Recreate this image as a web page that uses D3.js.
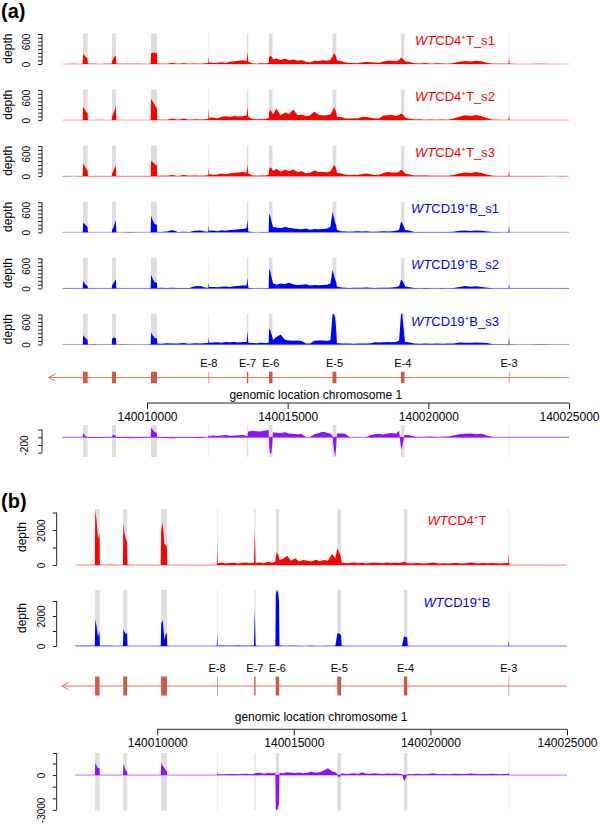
<!DOCTYPE html>
<html>
<head>
<meta charset="utf-8">
<script src="https://cdn.jsdelivr.net/npm/d3@7"></script>
<style>
  body { margin: 0; background: #fff; }
  svg { display: block; }
</style>
</head>
<body>
<svg id="chart" width="600" height="827"></svg>
<script>
// genomic positions (offset from chromBase) where coverage is sampled
const chromBase = 140000000;
const positions = [
  7000, 7200, 7400, 7600, 7715,
  7730, 7780, 7830, 7885,
  7900, 8100, 8300, 8500, 8745,
  8760, 8800, 8850, 8895,
  8910, 9100, 9400, 9700, 10000, 10130,
  10145, 10200, 10260, 10320, 10352,
  10365, 10500, 10700, 10900, 11100, 11300, 11500, 11700, 11900, 12100, 12180,
  12195,
  12210, 12350, 12500, 12650, 12800, 12950, 13100, 13250, 13400, 13540,
  13570,
  13600, 13750, 13900, 14050, 14200, 14325,
  14340, 14380, 14420, 14458,
  14475, 14600, 14750, 14900, 15050, 15200, 15350, 15500, 15650, 15800, 15950, 16100, 16250, 16400, 16520,
  16595, 16640, 16690, 16730,
  16750, 16900, 17050, 17200, 17350, 17500, 17650, 17800, 17950, 18100, 18250, 18400, 18550, 18700, 18850, 18960,
  19030, 19070, 19110, 19150,
  19170, 19300, 19500, 19700, 19900, 20100, 20300, 20500, 20700, 20900, 21100, 21300, 21500, 21700, 21900, 22100, 22300, 22500, 22700, 22850,
  22868,
  22885, 23200, 23600, 24000, 24400, 24800, 25000
];

const exonStarts = [7725, 8756, 10142, 12188, 13550, 14337, 16594, 19029, 22862];
const exonEnds = [7889, 8898, 10355, 12200, 13600, 14461, 16732, 19153, 22878];
const exonNames = ["", "", "", "E-8", "E-7", "E-6", "E-5", "E-4", "E-3"];
const geneTip = 6500;
const axisTicks = [140010000, 140015000, 140020000, 140025000];

// (a) individual samples
const cd4s1 = [
  3, 2, 4, 3, 5,
  270, 230, 180, 150,
  8, 5, 3, 6, 4,
  80, 150, 200, 230,
  6, 4, 8, 5, 3, 6,
  290, 300, 300, 300, 290,
  12, 8, 10, 30, 6, 20, 8, 15, 10, 22, 30,
  213,
  40, 25, 35, 50, 30, 60, 75, 90, 100, 80,
  330,
  60, 15, 10, 20, 12, 30,
  180, 220, 200, 170,
  130, 150, 110, 140, 100, 120, 90, 110, 60, 40, 90, 80, 100, 90, 110,
  200, 285, 250, 180,
  100, 80, 40, 25, 30, 20, 45, 55, 50, 40, 30, 70, 90, 85, 75, 110,
  178, 150, 120, 100,
  70, 60, 20, 15, 25, 10, 20, 15, 10, 30, 60, 80, 70, 85, 75, 30, 10, 8, 5, 10,
  195,
  5, 3, 2, 4, 2, 3, 2
];
const cd4s2 = [
  4, 3, 2, 5, 4,
  355, 300, 220, 180,
  6, 4, 8, 5, 6,
  90, 160, 260, 400,
  8, 5, 6, 4, 5, 8,
  570, 500, 430, 350, 300,
  15, 10, 12, 45, 8, 40, 10, 20, 15, 25, 35,
  310,
  60, 70, 40, 90, 100, 80, 110, 95, 105, 120,
  355,
  80, 30, 20, 25, 30, 50,
  200, 270, 240, 180,
  150, 310, 120, 200, 160, 285, 130, 150, 110, 130, 220, 140, 120, 130, 150,
  250, 338, 280, 200,
  90, 80, 45, 40, 50, 45, 90, 85, 60, 40, 45, 120, 130, 140, 110, 133,
  178, 160, 130, 110,
  60, 40, 15, 20, 12, 18, 10, 15, 12, 40, 90, 130, 110, 133, 100, 50, 10, 8, 6, 12,
  178,
  6, 4, 3, 5, 2, 4, 3
];
const cd4s3 = [
  3, 4, 2, 3, 4,
  338, 280, 200, 160,
  5, 6, 4, 7, 5,
  71, 140, 220, 275,
  6, 5, 7, 4, 6, 5,
  420, 380, 330, 300, 280,
  14, 9, 11, 35, 7, 30, 9, 18, 12, 20, 30,
  240,
  50, 40, 45, 70, 50, 80, 90, 100, 115, 95,
  320,
  70, 20, 15, 22, 18, 40,
  180, 240, 220, 170,
  140, 200, 120, 170, 130, 180, 110, 130, 80, 90, 150, 110, 120, 100, 130,
  220, 290, 260, 190,
  100, 75, 40, 30, 40, 35, 60, 70, 55, 35, 40, 85, 110, 100, 90, 120,
  180, 150, 125, 100,
  65, 50, 18, 16, 20, 12, 15, 14, 10, 35, 70, 100, 85, 110, 85, 40, 10, 8, 5, 10,
  170,
  5, 3, 3, 4, 2, 3, 2
];
const cd19s1 = [
  2, 3, 2, 3, 2,
  258, 220, 180, 151,
  3, 2, 4, 3, 2,
  62, 120, 220, 329,
  4, 3, 5, 3, 4, 3,
  444, 330, 230, 210, 195,
  10, 6, 20, 62, 8, 15, 10, 40, 45, 15, 20,
  195,
  40, 45, 30, 55, 40, 60, 70, 80, 90, 110,
  355,
  20, 5, 4, 6, 5, 10,
  490, 440, 300, 200,
  150, 130, 110, 140, 120, 100, 90, 80, 100, 70, 90, 80, 85, 100, 150,
  551, 400, 250, 180,
  60, 30, 20, 15, 20, 25, 20, 30, 18, 15, 20, 25, 20, 30, 40, 70,
  285, 250, 180, 120,
  60, 50, 10, 8, 10, 6, 8, 10, 6, 15, 40, 45, 35, 45, 40, 20, 6, 5, 4, 8,
  195,
  4, 3, 2, 3, 2, 2, 2
];
const cd19s2 = [
  2, 2, 3, 2, 2,
  195, 140, 90, 62,
  3, 2, 3, 4, 2,
  80, 130, 190, 240,
  3, 4, 3, 2, 3, 4,
  373, 260, 180, 160, 151,
  8, 15, 10, 20, 8, 12, 10, 60, 62, 15, 20,
  151,
  35, 40, 30, 45, 50, 40, 55, 70, 80, 75,
  285,
  15, 5, 4, 5, 4, 8,
  525, 460, 320, 210,
  140, 100, 130, 120, 150, 110, 90, 100, 110, 80, 90, 85, 90, 100, 130,
  490, 380, 230, 160,
  50, 25, 15, 12, 18, 20, 15, 25, 15, 12, 15, 20, 18, 25, 35, 60,
  240, 210, 160, 110,
  50, 40, 8, 6, 9, 5, 7, 9, 5, 12, 35, 62, 45, 55, 40, 18, 5, 4, 3, 6,
  133,
  3, 2, 2, 3, 2, 2, 2
];
const cd19s3 = [
  2, 3, 2, 2, 3,
  249, 200, 160, 133,
  3, 4, 2, 3, 2,
  150, 187, 180, 170,
  3, 4, 3, 3, 2, 4,
  320, 250, 190, 170, 160,
  30, 20, 35, 25, 30, 40, 20, 35, 30, 40, 50,
  205,
  45, 55, 60, 50, 65, 60, 70, 55, 65, 70,
  365,
  45, 40, 35, 45, 40, 50,
  427, 380, 290, 200,
  120, 200, 267, 130, 110, 100, 105, 95, 30, 25, 98, 105, 110, 100, 115,
  800, 820, 700, 350,
  40, 30, 25, 30, 20, 25, 30, 28, 35, 60, 55, 62, 65, 60, 70, 110,
  820, 820, 500, 200,
  70, 60, 25, 20, 25, 20, 25, 20, 25, 30, 53, 50, 45, 55, 50, 40, 10, 8, 6, 10,
  205,
  5, 3, 3, 4, 2, 3, 2
];
const diffSamples = [
  -5, -3, -8, -5, 0,
  105, 60, 20, 10,
  -10, -15, -20, -12, -10,
  30, 78, 50, 40,
  -15, -20, -25, -20, -15, -10,
  250, 200, 150, 120, 100,
  -15, -10, -20, -30, -10, -20, -10, -15, -25, -5, 10,
  70,
  30, 45, 35, 50, 60, 40, 50, 55, 60, 40,
  20,
  150, 170, 160, 150, 180, 190,
  -200, -445, -400, -150,
  130, 120, 110, 130, 100, 90, 80, 85, 0, 10, 80, 110, 148, 120, 90,
  50, -300, -505, -200,
  100, 100, 90, 10, 0, 5, 0, 10, 60, 80, 90, 70, 100, 110, 90, 174,
  -313, -250, -100, 60,
  60, 60, 20, 10, 15, 20, 10, 15, 20, 50, 80, 90, 100, 80, 90, 40, 5, 0, -5, 0,
  -30,
  -5, -8, -5, -6, -4, -5, -3
];

// (b) merged samples
const cd4Merged = [
  5, 3, 4, 2, 10,
  3150, 2500, 1500, 1800,
  10, 5, 8, 6, 5,
  2400, 1800, 1500, 1300,
  8, 5, 6, 4, 5, 6,
  2000, 2440, 1200, 1150, 1010,
  5, 3, 4, 6, 3, 5, 4, 3, 5, 6, 8,
  1300,
  100, 150, 80, 110, 130, 90, 120, 150, 100, 130,
  1920,
  120, 150, 100, 180, 130, 200,
  500, 720, 600, 400,
  300, 350, 530, 250, 380, 200, 290, 250, 200, 300, 220, 280, 250, 630, 400,
  950, 800, 600, 400,
  150, 100, 120, 150, 100, 130, 90, 110, 150, 120, 100, 140, 110, 130, 120, 150,
  190, 160, 140, 120,
  100, 90, 120, 80, 95, 150, 90, 100, 85, 130, 90, 100, 150, 90, 110, 95, 120, 90, 100, 130,
  720,
  5, 3, 4, 3, 2, 3, 2
];
const cd19Merged = [
  20, 15, 18, 12, 20,
  1780, 1300, 620, 1000,
  15, 10, 12, 8, 10,
  1110, 950, 800, 890,
  8, 6, 5, 6, 8, 10,
  1500, 1730, 400, 850, 800,
  10, 8, 6, 5, 8, 6, 5, 4, 6, 5, 8,
  955,
  20, 30, 15, 25, 20, 30, 15, 25, 20, 40,
  2400,
  10, 8, 5, 6, 8, 10,
  3400, 3730, 3600, 3000,
  15, 10, 8, 12, 10, 8, 6, 8, 10, 5, 8, 6, 10, 8, 12,
  845, 845, 800, 700,
  10, 8, 6, 5, 6, 4, 5, 6, 4, 5, 6, 5, 4, 6, 8, 10,
  620, 620, 600, 550,
  10, 8, 6, 5, 4, 5, 4, 6, 5, 4, 5, 6, 5, 4, 5, 4, 6, 5, 4, 6,
  400,
  5, 4, 3, 4, 3, 2, 2
];
const diffMerged = [
  0, 0, 0, 0, 0,
  1070, 800, 600, 580,
  0, 0, 0, 0, 0,
  950, 700, 400, 290,
  0, 0, 0, 0, 0, 0,
  1100, 800, 600, 400, 290,
  0, 0, 0, 0, 0, 0, 0, 0, 0, 0, 0,
  290,
  60, 80, 70, 90, 100, 80, 90, 110, 80, 100,
  150,
  150, 200, 120, 180, 150, 200,
  -3035, -3000, -2800, -2500,
  200, 150, 250, 200, 180, 220, 150, 200, 300, 200, 250, 400, 580, 300, 250,
  100, -200, -150, 50,
  150, 100, 120, 150, 100, 250, 120, 110, 150, 120, 100, 140, 110, 130, 120, 100,
  -490, -400, -200, 50,
  100, 80, 120, 70, 90, 150, 80, 100, 80, 120, 90, 100, 140, 90, 100, 90, 110, 80, 100, 120,
  200,
  0, 0, 0, 0, 0, 0, 0
];

const red = "#ff0000", blue = "#0000ff", violet = "#9010ff";
const exonGray = "#dedede", geneFill = "#cd5b45", geneLine = "#e07a66", axisColor = "#222";
const fontFamily = "'Liberation Sans', Arial, Helvetica, sans-serif";

const svg = d3.select("#chart").attr("font-family", fontFamily);

const xA = d3.scaleLinear().domain([chromBase + 7000, chromBase + 25000]).range([62.6, 569]);
const xB = d3.scaleLinear().domain([chromBase + 7000, chromBase + 25000]).range([75.3, 567]);

function drawCoverage(x, y, values, color, lineOpacity) {
  const g = svg.append("g");
  const [yBottom, yTop] = y.range();
  g.selectAll("rect").data(exonStarts).join("rect")
    .attr("x", d => x(chromBase + d))
    .attr("width", (d, i) => Math.max(x(chromBase + exonEnds[i]) - x(chromBase + d), 0.6))
    .attr("y", yTop)
    .attr("height", yBottom - yTop)
    .attr("fill", exonGray);
  g.append("line")
    .attr("x1", x.range()[0]).attr("x2", x.range()[1])
    .attr("y1", y(0)).attr("y2", y(0))
    .attr("stroke", color).attr("stroke-opacity", lineOpacity);
  const pts = positions.map((p, i) => [chromBase + p, values[i]]);
  g.append("path").datum(pts)
    .attr("d", d3.area().x(d => x(d[0])).y0(y(0)).y1(d => y(d[1])))
    .attr("fill", color);
}

function drawYAxis(y, ticks, shown, axisX, labelGap) {
  const g = svg.append("g").attr("transform", `translate(${axisX},0)`)
    .call(d3.axisLeft(y).tickValues(ticks).tickSize(4).tickSizeOuter(0)
      .tickFormat(d => shown.includes(d) ? d : ""));
  g.select(".domain").remove();
  g.append("line").attr("y1", y(d3.min(ticks))).attr("y2", y(d3.max(ticks))).attr("stroke", axisColor);
  g.selectAll(".tick line").attr("stroke", axisColor);
  g.selectAll(".tick text")
    .attr("x", null).attr("dy", "0.36em").attr("text-anchor", "middle")
    .attr("transform", `translate(${-labelGap},0) rotate(-90)`);
  g.attr("font-family", fontFamily).attr("font-size", 10);
}

function depthLabel(y, cx) {
  const cy = (y.range()[0] + y.range()[1]) / 2;
  svg.append("text")
    .attr("transform", `translate(${cx},${cy}) rotate(-90)`)
    .attr("dy", "0.36em").attr("text-anchor", "middle")
    .attr("font-size", 12).text("depth");
}

function trackLabel(cx, baseline, cell, suffix, color) {
  const t = svg.append("text").attr("x", cx).attr("y", baseline)
    .attr("text-anchor", "middle").attr("fill", color).attr("font-size", 13);
  t.append("tspan").attr("font-style", "italic").text("WT");
  t.append("tspan").text(cell);
  t.append("tspan").attr("font-size", 8).attr("dy", -5).text("+");
  t.append("tspan").attr("dy", 5).text(suffix);
}

function drawGene(x, yLine, exonH) {
  const g = svg.append("g");
  const x0 = x(chromBase + geneTip);
  g.append("line").attr("x1", x0).attr("x2", x.range()[1])
    .attr("y1", yLine).attr("y2", yLine).attr("stroke", geneLine);
  g.append("path")
    .attr("d", `M${x0 + 7},${yLine - 3.6}L${x0},${yLine}L${x0 + 7},${yLine + 3.6}`)
    .attr("fill", "none").attr("stroke", geneLine);
  g.selectAll("rect").data(exonStarts).join("rect")
    .attr("x", d => x(chromBase + d))
    .attr("width", (d, i) => Math.max(x(chromBase + exonEnds[i]) - x(chromBase + d), 0.6))
    .attr("y", yLine - exonH / 2).attr("height", exonH)
    .attr("fill", geneFill);
  g.selectAll("text").data(exonNames).join("text")
    .attr("x", (d, i) => x(chromBase + (exonStarts[i] + exonEnds[i]) / 2))
    .attr("y", yLine - exonH / 2 - 5)
    .attr("text-anchor", "middle").attr("font-size", 11)
    .text(d => d);
}

function drawXAxis(x, yPos, titleY) {
  const g = svg.append("g").attr("transform", `translate(0,${yPos})`)
    .call(d3.axisBottom(x).tickValues(axisTicks).tickSize(6).tickSizeOuter(0).tickFormat(d3.format("d")));
  g.select(".domain").remove();
  g.append("line").attr("x1", x(axisTicks[0])).attr("x2", x(axisTicks[axisTicks.length - 1]))
    .attr("stroke", axisColor);
  g.selectAll(".tick line").attr("stroke", axisColor);
  g.attr("font-family", fontFamily).attr("font-size", 12);
  svg.append("text")
    .attr("x", (x.range()[0] + x.range()[1]) / 2).attr("y", titleY)
    .attr("text-anchor", "middle").attr("font-size", 12)
    .text("genomic location chromosome 1");
}

function panelTag(label, baseline) {
  svg.append("text").attr("x", 1).attr("y", baseline)
    .attr("font-size", 20).attr("font-weight", "bold").text(label);
}

// ---- panel (a)
panelTag("(a)", 17.5);

const samplesA = [
  { values: cd4s1, cell: "CD4", suffix: "T_s1", color: red },
  { values: cd4s2, cell: "CD4", suffix: "T_s2", color: red },
  { values: cd4s3, cell: "CD4", suffix: "T_s3", color: red },
  { values: cd19s1, cell: "CD19", suffix: "B_s1", color: blue },
  { values: cd19s2, cell: "CD19", suffix: "B_s2", color: blue },
  { values: cd19s3, cell: "CD19", suffix: "B_s3", color: blue }
];

samplesA.forEach((s, i) => {
  const base = 64 + 56.1 * i;
  const y = d3.scaleLinear().domain([0, 820]).range([base, base - 820 * 0.0375]).clamp(true);
  drawCoverage(xA, y, s.values, s.color, 0.35);
  drawYAxis(y, d3.range(0, 801, 100), [0, 600], 42, 16);
  depthLabel(y, 8);
  trackLabel(455, base - 19, s.cell, s.suffix, s.color);
});

drawGene(xA, 377.5, 11.5);
drawXAxis(xA, 403, 398.5);

const yDiffA = d3.scaleLinear().domain([-514, 321]).range([457, 425]).clamp(true);
drawCoverage(xA, yDiffA, diffSamples, violet, 0.6);
drawYAxis(yDiffA, [200, 0, -200, -400], [-200], 42, 18);

// ---- panel (b)
panelTag("(b)", 508);

const yCd4 = d3.scaleLinear().domain([0, 3200]).range([565, 509]).clamp(true);
drawCoverage(xB, yCd4, cd4Merged, red, 0.5);
drawYAxis(yCd4, [0, 1000, 2000, 3000], [0, 2000], 56.7, 15);
depthLabel(yCd4, 22);
trackLabel(457, 525, "CD4", "T", red);

const yCd19 = d3.scaleLinear().domain([0, 3730]).range([646, 590]).clamp(true);
drawCoverage(xB, yCd19, cd19Merged, blue, 0.5);
drawYAxis(yCd19, [0, 1000, 2000, 3000], [0, 2000], 56.7, 15);
depthLabel(yCd19, 22);
trackLabel(457, 607, "CD19", "B", blue);

drawGene(xB, 686, 19);
drawXAxis(xB, 729.3, 721);

const yDiffB = d3.scaleLinear().domain([-3050, 1900]).range([810.5, 753]).clamp(true);
drawCoverage(xB, yDiffB, diffMerged, violet, 0.6);
drawYAxis(yDiffB, [2000, 1000, 0, -1000, -2000, -3000], [0, -3000], 56.7, 15);
</script>
</body>
</html>
